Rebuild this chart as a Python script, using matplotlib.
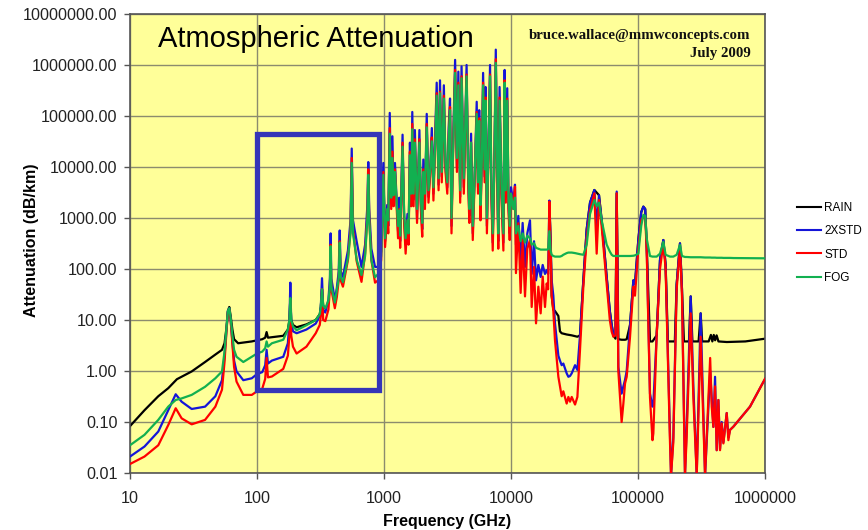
import numpy as np
import matplotlib
matplotlib.use("Agg")
import matplotlib.pyplot as plt
from matplotlib.patches import Rectangle
from matplotlib.lines import Line2D

plt.rcParams['font.family'] = ['Liberation Sans', 'DejaVu Sans']

# ---------------- data ----------------
freq_ghz = [
    # 10 - 100 GHz
    10, 13, 16.7, 20, 22.9, 25.5, 30.6, 39, 47, 53,
    55.5, 57.5, 59, 60.5, 62, 64, 66, 69, 78, 91,
    # 100 - 1000 GHz
    100, 110, 116, 119, 122, 131, 161, 175, 180, 183,
    186, 192, 205, 245, 290, 312, 318, 325, 332, 345,
    365, 375, 380, 385, 410, 425, 440, 448, 456, 475,
    520, 545, 557, 570, 610, 665, 710, 740, 752, 765,
    795, 850, 900, 950,
    # 1 - 10 THz
    988, 1020, 1060, 1080, 1110, 1140, 1165, 1190, 1220, 1290,
    1320, 1340, 1400, 1440, 1480, 1530, 1560, 1600, 1640, 1670,
    1710, 1750, 1820, 1900, 1950, 2000, 2040, 2100, 2170, 2240,
    2320, 2380, 2450, 2530, 2600, 2690, 2760, 2850, 2960, 3050,
    3150, 3230, 3310, 3400, 3500, 3630, 3750, 3850, 3980, 4080,
    4250, 4470, 4600, 4700, 4850, 5000, 5200, 5370, 5500, 5620,
    5750, 5900, 6030, 6200, 6310, 6460, 6650, 6840, 7000, 7180,
    7400, 7590, 7800, 7940, 8130, 8400, 8710, 8910, 9100, 9340,
    9550, 9770, 10000,
    # 10 THz - 1 PHz
    10430, 10750, 10940, 11420, 11910, 12350, 12890, 13440, 14110, 14550,
    15180, 15740, 16420, 17120, 17760, 18520, 19100, 19600, 20050, 20500,
    20900, 21540, 22200, 23600, 24300, 25060, 25830, 27440, 28300, 29170,
    30070, 31940, 33320, 34940, 37120, 39440, 41900, 45330, 47270, 49300,
    51760, 56660, 60000, 62080, 63990, 66500, 67980, 70000, 74320, 76690,
    79040, 81470, 86550, 91960, 94650, 100600, 106000, 110200, 114000, 117000,
    124300, 130000, 132100, 140300, 149000, 158300, 165000, 178600, 182000, 189700,
    201500, 214100, 222000, 234400, 241600, 260000, 272900, 289900, 311400, 337300,
    370000, 380600, 392300, 404300, 416700, 429500, 442600, 456200, 470200, 499500,
    514800, 530500, 563600, 762000, 1000000,
]

att_std = [
    0.015, 0.021, 0.035, 0.087, 0.186, 0.118, 0.09, 0.11, 0.2, 0.43,
    1.5, 6, 14, 16, 10, 3.5, 1.2, 0.62, 0.34, 0.34,
    0.4, 0.45, 0.7, 1.8, 0.75, 0.78, 1.1, 2.0, 5, 25,
    5, 3.0, 2.2, 3.0, 5.5, 8, 12, 40, 10, 9.5,
    16, 40, 300, 40, 17, 28, 60, 350, 60, 45,
    150, 600, 15000, 600, 140, 56, 200, 1200, 9000, 1000,
    150, 54, 60, 150,
    8000, 270, 1200, 500, 58000, 1500, 20000, 1700, 9000, 400,
    1500, 260, 30000, 800, 200, 900, 300, 20000, 1700, 70000,
    1700, 35000, 800, 35000, 1500, 430, 9000, 1500, 70000, 2000,
    9000, 38000, 2200, 30000, 280000, 3500, 300000, 5000, 250000, 8000,
    3000, 40000, 150000, 500, 20000, 800000, 8000, 450000, 2000, 600000,
    3000, 650000, 5000, 800, 30000, 370, 8000, 120000, 3000, 90000,
    900, 15000, 450000, 5000, 230000, 500, 20000, 650000, 3000, 230,
    10000, 1300000, 5000, 250, 230000, 3000, 230, 500000, 2000, 220000,
    1500, 370, 3000,
    1500, 4100, 83, 790, 34, 370, 29, 250, 370, 18,
    110, 8.6, 45, 13.5, 71, 18, 52, 40, 2090, 300,
    30, 15, 4, 0.77, 0.5, 0.32, 0.4, 0.23, 0.31, 0.25,
    0.31, 0.22, 0.31, 2.6, 45, 400, 1400, 3050, 200, 2250,
    680, 52, 10, 5.9, 4.7, 5, 3050, 1.0, 0.1, 0.23,
    0.57, 0.77, 4.7, 45, 30, 250, 900, 1060, 1000, 250,
    0.3, 0.044, 0.06, 5, 100, 318, 100, 0.04, 0.009, 0.04,
    40, 274, 30, 0.009, 0.05, 13.5, 0.3, 0.009, 4.7, 0.009,
    1.8, 0.2, 0.08, 0.5, 0.028, 0.27, 0.028, 0.094, 0.038, 0.15,
    0.044, 0.07, 0.081, 0.2, 0.7,
]

att_2xstd = [
    0.021, 0.033, 0.065, 0.17, 0.35, 0.25, 0.18, 0.2, 0.32, 0.66,
    2.0, 6.5, 15, 17, 10, 3.8, 1.6, 0.98, 0.66, 0.72,
    0.87, 0.95, 1.3, 2.6, 1.4, 1.6, 1.9, 3.5, 9, 54,
    9, 6, 5.5, 6.5, 8.5, 12, 18, 66, 16, 14,
    25, 65, 500, 65, 25, 42, 90, 570, 90, 70,
    230, 900, 23000, 900, 340, 110, 300, 1800, 12500, 1500,
    250, 110, 110, 220,
    12000, 350, 1800, 700, 115000, 2000, 40000, 2200, 12000, 550,
    2500, 350, 43000, 1100, 300, 1200, 400, 30000, 2200, 120000,
    2300, 53000, 1000, 53000, 2000, 600, 14000, 2000, 110000, 2600,
    12000, 58000, 3000, 45000, 450000, 4500, 500000, 6500, 400000, 10000,
    4000, 60000, 220000, 700, 30000, 1260000, 10000, 740000, 2600, 940000,
    4000, 1000000, 6500, 1100, 45000, 500, 10000, 190000, 4000, 130000,
    1200, 20000, 700000, 6500, 370000, 700, 30000, 1000000, 4000, 330,
    15000, 2000000, 6500, 350, 370000, 4000, 330, 800000, 2600, 350000,
    2000, 500, 4000,
    2000, 4500, 300, 1100, 120, 800, 110, 500, 900, 80,
    350, 60, 120, 70, 120, 80, 95, 80, 2200, 400,
    60, 30, 8.6, 2.0, 1.6, 1.3, 1.4, 0.9, 0.77, 0.8,
    0.9, 1.3, 1.05, 5, 60, 600, 2000, 3540, 700, 2800,
    900, 70, 15, 8, 5, 5.5, 3300, 1.2, 0.36, 0.5,
    0.67, 1.0, 8, 60, 50, 370, 1300, 1670, 1500, 300,
    0.36, 0.2, 0.23, 5, 150, 370, 120, 0.05, 0.009, 0.05,
    50, 318, 40, 0.009, 0.08, 29, 0.5, 0.009, 13.5, 0.009,
    1.0, 0.3, 0.08, 0.77, 0.028, 0.27, 0.03, 0.1, 0.04, 0.15,
    0.05, 0.07, 0.081, 0.2, 0.7,
]

att_fog = [
    0.035, 0.056, 0.11, 0.2, 0.27, 0.29, 0.34, 0.49, 0.72, 0.98,
    2.4, 7, 15, 17, 11, 5, 2.6, 1.9, 1.5, 1.9,
    2.2, 2.4, 2.8, 3.8, 3.0, 3.5, 4.1, 6.5, 10, 27,
    10, 7.5, 6.3, 7.9, 10, 13, 18, 40, 19, 17,
    24, 45, 280, 45, 22, 38, 65, 330, 70, 55,
    160, 500, 12000, 500, 150, 76, 180, 1000, 7000, 900,
    150, 69, 80, 180,
    7000, 400, 1500, 900, 45000, 2500, 15000, 2800, 8000, 700,
    1400, 450, 25000, 1300, 400, 900, 500, 17000, 3000, 55000,
    3000, 30000, 1500, 30000, 2500, 800, 8000, 3000, 60000, 3500,
    10000, 32000, 4000, 28000, 250000, 6000, 280000, 8000, 220000, 12000,
    5000, 35000, 130000, 1000, 20000, 700000, 15000, 400000, 3500, 550000,
    6000, 600000, 8000, 1500, 30000, 700, 10000, 110000, 5000, 80000,
    1800, 15000, 400000, 9000, 200000, 1000, 20000, 600000, 5000, 500,
    12000, 1100000, 8000, 500, 200000, 5000, 500, 450000, 3500, 200000,
    2500, 700, 3000,
    1500, 2500, 500, 700, 350, 500, 330, 450, 400, 300,
    320, 260, 250, 240, 240, 240, 240, 245, 550, 230,
    190, 180, 175, 175, 175, 180, 190, 205, 210, 210,
    210, 205, 200, 195, 190, 300, 1200, 2250, 1700, 2000,
    900, 300, 220, 190, 180, 180, 180, 180, 180, 180,
    180, 180, 180, 182, 185, 200, 700, 1150, 1100, 400,
    180, 175, 175, 175, 200, 340, 190, 175, 175, 175,
    190, 296, 180, 172, 172, 170, 170, 170, 170, 168,
    168, 167, 167, 167, 166, 166, 166, 166, 165, 165,
    165, 165, 164, 163, 162,
]

rain_freq_ghz = [
    10, 13, 16.7, 20, 23.4, 30.6, 39, 47, 53, 55.5,
    57.5, 59, 60.5, 62, 64, 66, 71, 91, 100, 110,
    116, 119, 122, 131, 161, 175, 180, 183, 186, 192,
    205, 245, 290, 312, 318, 325, 332, 345, 1000,
    20050, 20500, 20900, 21540, 22200, 23600, 24300, 25060, 27440, 30070,
    33320, 34940, 37120, 39440, 41900, 45330, 49300, 51760, 56660, 60000,
    62080, 63990, 66500, 67980, 70000, 74320, 79040, 81470, 86550, 91960,
    94650, 100600, 106000, 110200, 114000, 117000, 124300, 130000, 140300, 149000,
    158300, 165000, 172000, 195000, 201500, 214100, 222000, 230000, 252000, 260000,
    268000, 300000, 311400, 320000, 360000, 375000, 385000, 395000, 405000, 416000,
    430000, 500000, 700000, 1000000,
]

att_rain = [
    0.083, 0.17, 0.32, 0.46, 0.69, 0.98, 1.5, 2.1, 2.6, 3.5,
    7, 15, 18, 12, 6.5, 4.2, 3.5, 3.8, 4.0, 4.2,
    4.5, 5.8, 4.5, 4.6, 4.9, 6.5, 10, 27, 10, 8,
    7.2, 8.2, 10, 13, 18, 40, 19, 17, np.nan,
    2090, 300, 30, 16, 15, 12, 6.0, 5.5, 5.2, 5.0,
    4.7, 5, 60, 600, 2000, 3540, 2800, 900, 70, 15,
    8, 5, 4.3, 3050, 4.2, 4.1, 4.1, 4.2, 8, 60,
    50, 370, 1300, 1670, 1500, 300, 3.8, 3.8, 5, 150,
    370, 120, 3.8, 3.8, 50, 318, 40, 3.8, 3.8, 29,
    3.8, 3.8, 13.5, 3.8, 3.8, 5.1, 3.8, 5.1, 4.0, 5.0,
    3.8, 3.7, 3.8, 4.3,
]

series_labels = ['RAIN', '2XSTD', 'STD', 'FOG']

x_ticks = [10, 100, 1000, 10000, 100000, 1000000]
x_tick_labels = ['10', '100', '1000', '10000', '100000', '1000000']
y_ticks = [0.01, 0.1, 1, 10, 100, 1000, 1e4, 1e5, 1e6, 1e7]
y_tick_labels = ['0.01', '0.10', '1.00', '10.00', '100.00', '1000.00',
                 '10000.00', '100000.00', '1000000.00', '10000000.00']

highlight_freq = [100, 912]      # blue box, GHz
highlight_att = [0.43, 44000]    # blue box, dB/km

# ---------------- figure ----------------
fig = plt.figure(figsize=(8.68, 5.30), dpi=100)
fig.patch.set_facecolor('white')
ax = fig.add_axes([130 / 868, 1 - 473 / 530, 635 / 868, 459 / 530])
ax.set_facecolor('#FFFF99')

ax.set_xscale('log')
ax.set_yscale('log')
ax.set_xlim(10, 1e6)
ax.set_ylim(0.01, 1e7)

ax.set_xticks(x_ticks)
ax.set_xticklabels(x_tick_labels)
ax.set_yticks(y_ticks)
ax.set_yticklabels(y_tick_labels)
ax.minorticks_off()
ax.tick_params(axis='both', which='major', labelsize=11.6, length=4,
               width=1, color='#555555', labelcolor='#222222')
ax.tick_params(axis='x', pad=9)
ax.tick_params(axis='y', pad=5)

ax.grid(True, which='major', color='#8C8C6E', linewidth=1.0)
ax.set_axisbelow(True)
for s in ax.spines.values():
    s.set_color('#555555')
    s.set_linewidth(1.2)

lw = 1.6
colors = {'RAIN': '#000000', '2XSTD': '#1515D8', 'STD': '#FF0000', 'FOG': '#12B050'}
ax.plot(rain_freq_ghz, att_rain, color=colors['RAIN'], lw=lw, zorder=2)
ax.plot(freq_ghz, att_2xstd, color=colors['2XSTD'], lw=lw, zorder=3)
ax.plot(freq_ghz, att_std, color=colors['STD'], lw=lw, zorder=4)
ax.plot(freq_ghz, att_fog, color=colors['FOG'], lw=lw, zorder=5)

rect = Rectangle((highlight_freq[0], highlight_att[0]),
                 highlight_freq[1] - highlight_freq[0],
                 highlight_att[1] - highlight_att[0],
                 fill=False, edgecolor='#3535B8', linewidth=3.8, zorder=6,
                 joinstyle='miter')
ax.add_patch(rect)

ax.set_xlabel('Frequency (GHz)', fontsize=11.5, fontweight='bold', labelpad=6)
ax.set_ylabel('Attenuation (dB/km)', fontsize=11.5, fontweight='bold')
ax.yaxis.set_label_coords((39 - 130) / 635, (473 - 240) / 459)

ax.text(0.044, 0.928, 'Atmospheric Attenuation', transform=ax.transAxes,
        fontsize=21, ha='left', va='baseline', color='black', zorder=7)
ax.text(0.9775, 0.945, 'bruce.wallace@mmwconcepts.com', transform=ax.transAxes,
        fontsize=10.7, fontweight='bold', family='Liberation Serif',
        ha='right', va='baseline', color='#111111', zorder=7)
ax.text(0.9775, 0.907, 'July 2009', transform=ax.transAxes,
        fontsize=10.7, fontweight='bold', family='Liberation Serif',
        ha='right', va='baseline', color='#111111', zorder=7)

handles = [Line2D([0], [0], color=colors[k], lw=1.5) for k in series_labels]
fig.legend(handles, series_labels, loc='center left',
           bbox_to_anchor=(797 / 868, 1 - 243 / 530), frameon=False,
           fontsize=8.5, handlelength=2.0, handletextpad=0.3,
           labelspacing=0.95, borderpad=0, borderaxespad=0)

fig.savefig('out.png', dpi=100)
